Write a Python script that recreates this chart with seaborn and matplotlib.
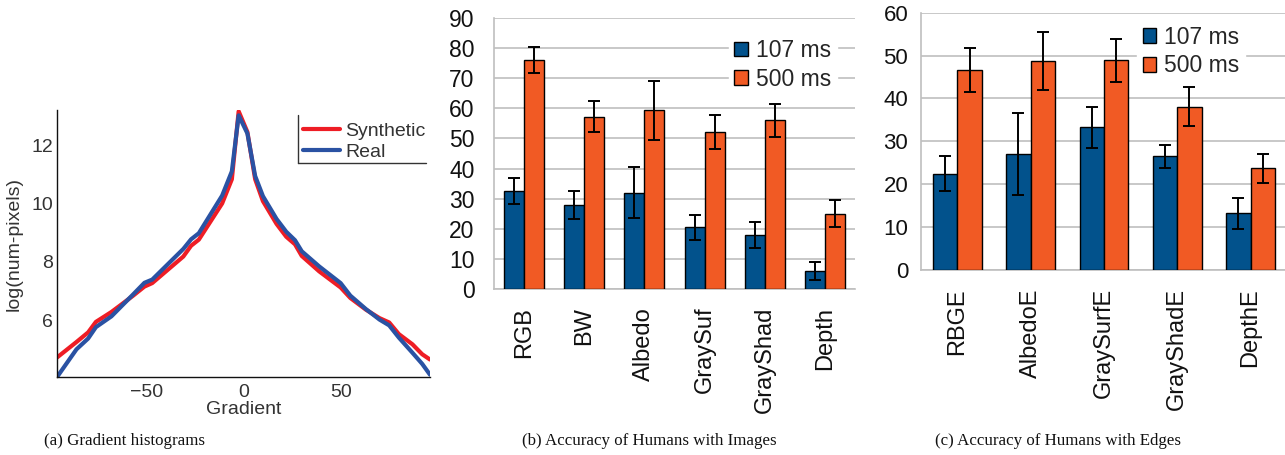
import numpy as np
import pandas as pd
import matplotlib
matplotlib.use("Agg")
import matplotlib.pyplot as plt
from matplotlib.lines import Line2D
from matplotlib.patches import Patch
import seaborn as sns

# ---------------- data ----------------
gradient = [-96, -86, -80, -76, -68, -57, -51, -47, -31, -27, -23, -11, -6, -2.5,
            2, 6, 10, 17, 22, 26.5, 30, 39, 50, 55, 63, 70, 75, 80, 87, 92, 96]
synthetic = [4.72, 5.25, 5.58, 5.94, 6.28, 6.83, 7.15, 7.27, 8.18, 8.55, 8.76, 10.0, 10.83, 13.16,
             12.45, 10.83, 10.08, 9.3, 8.86, 8.6, 8.2, 7.67, 7.12, 6.76, 6.36, 6.07, 5.92, 5.52, 5.17, 4.83, 4.65]
real = [4.05, 5.0, 5.37, 5.76, 6.13, 6.87, 7.28, 7.39, 8.44, 8.77, 8.98, 10.27, 11.1, 13.02,
        12.4, 10.94, 10.25, 9.47, 9.03, 8.74, 8.36, 7.84, 7.27, 6.84, 6.38, 6.02, 5.82, 5.4, 4.88, 4.5, 4.13]

img_cats = ["RGB", "BW", "Albedo", "GraySuf", "GrayShad", "Depth"]
img_107 = [32.6, 27.9, 32.0, 20.4, 18.0, 6.0]
img_107_err = [4.4, 4.7, 8.6, 4.2, 4.3, 3.0]
img_500 = [76.2, 57.3, 59.4, 52.2, 56.0, 25.0]
img_500_err = [4.3, 5.2, 9.8, 5.6, 5.5, 4.4]

edge_cats = ["RBGE", "AlbedoE", "GraySurfE", "GrayShadE", "DepthE"]
edge_107 = [22.5, 27.1, 33.3, 26.5, 13.2]
edge_107_err = [4.05, 9.5, 4.8, 2.7, 3.6]
edge_500 = [46.6, 48.7, 48.9, 38.1, 23.7]
edge_500_err = [5.2, 6.7, 5.0, 4.6, 3.4]

conditions = ["107 ms", "500 ms"]
captions = ["(a) Gradient histograms", "(b) Accuracy of Humans with Images",
            "(c) Accuracy of Humans with Edges"]

# ---------------- style ----------------
sns.set_style("white")
plt.rcParams["font.family"] = ["Liberation Sans", "DejaVu Sans"]
RED = "#EE1D25"
BLUE_LINE = "#2A52A3"
BAR_BLUE = "#02528C"
BAR_ORANGE = "#F15A24"
GRID = "#BFBFBF"

fig = plt.figure(figsize=(12.85, 4.55), dpi=100)

# ---------------- panel (a) ----------------
axA = fig.add_axes([0.0444, 0.1714, 0.2902, 0.5866])
sns.lineplot(x=gradient, y=synthetic, ax=axA, color=RED, lw=3.0, label="Synthetic")
sns.lineplot(x=gradient, y=real, ax=axA, color=BLUE_LINE, lw=3.0, label="Real")
axA.set_xlim(-96, 96)
axA.set_ylim(4.05, 13.2)
axA.set_xticks([-50, 0, 50])
axA.set_xticklabels(["\u221250", "0", "50"])
axA.set_yticks([6, 8, 10, 12])
for s in ["top", "right"]:
    axA.spines[s].set_visible(False)
for s in ["left", "bottom"]:
    axA.spines[s].set_color("#111111")
    axA.spines[s].set_linewidth(1.0)
axA.tick_params(direction="in", length=4, width=1, colors="#111111",
                labelsize=14, labelcolor="#333333")
axA.tick_params(axis="x", pad=5)
axA.tick_params(axis="y", pad=3)
axA.set_xlabel("Gradient", fontsize=14, color="#333333", labelpad=0)
axA.set_ylabel("log(num-pixels)", fontsize=14, color="#333333", labelpad=6)
legA = axA.legend(loc="upper left", bbox_to_anchor=(0.648, 0.97), frameon=False,
                  fontsize=14, handlelength=1.9, handletextpad=0.3,
                  labelspacing=0.2, borderpad=0.2, borderaxespad=0)
for t in legA.get_texts():
    t.set_color("#333333")
# legend frame: only left and bottom edges
fig.add_artist(Line2D([0.2319, 0.2319], [0.6418, 0.7473], color="#333333", lw=1.0))
fig.add_artist(Line2D([0.2319, 0.3315], [0.6418, 0.6418], color="#333333", lw=1.0))


def bar_panel(ax, cats, v107, e107, v500, e500, ymax, ytick_size, ypad, leg_anchor):
    df = pd.DataFrame({
        "category": cats + cats,
        "condition": [conditions[0]] * len(cats) + [conditions[1]] * len(cats),
        "value": v107 + v500,
    })
    sns.barplot(data=df, x="category", y="value", hue="condition", order=cats,
                hue_order=conditions, palette=[BAR_BLUE, BAR_ORANGE], width=2 / 3,
                edgecolor="black", linewidth=1.0, saturation=1, errorbar=None,
                ax=ax, zorder=3)
    for cont, errs in zip(ax.containers, [e107, e500]):
        for bar, err in zip(cont, errs):
            ax.errorbar(bar.get_x() + bar.get_width() / 2, bar.get_height(), yerr=err,
                        fmt="none", ecolor="black", elinewidth=1.4, capsize=4,
                        capthick=1.4, zorder=4)
    ax.set_ylim(0, ymax)
    ax.set_xlim(-0.5, len(cats) - 0.5)
    ax.set_yticks(np.arange(0, ymax + 1, 10))
    ax.yaxis.grid(True, color=GRID, lw=1.2, zorder=0)
    ax.set_axisbelow(True)
    for s in ["top", "right"]:
        ax.spines[s].set_visible(False)
    for s in ["left", "bottom"]:
        ax.spines[s].set_color(GRID)
        ax.spines[s].set_linewidth(1.2)
    ax.set_xticks(np.arange(-0.5, len(cats), 1.0), minor=True)
    ax.tick_params(axis="x", which="minor", length=5, width=1.2, color=GRID, direction="out")
    ax.tick_params(axis="x", which="major", length=0, pad=13, labelsize=17, labelcolor="#111111")
    ax.set_xticks(range(len(cats)))
    ax.set_xticklabels(cats, rotation=90, va="top", ha="center")
    ax.tick_params(axis="y", length=5, width=1.2, color=GRID, direction="out",
                   pad=ypad, labelsize=ytick_size, labelcolor="#111111")
    ax.set_xlabel("")
    ax.set_ylabel("")
    handles = [Patch(facecolor=BAR_BLUE, edgecolor="black", lw=1.0),
               Patch(facecolor=BAR_ORANGE, edgecolor="black", lw=1.0)]
    ax.legend(handles, conditions, loc="upper left", bbox_to_anchor=leg_anchor,
              fontsize=16.5, frameon=True, facecolor="white", edgecolor="white",
              framealpha=1, fancybox=False, handlelength=0.6, handleheight=0.6,
              handletextpad=0.35, labelspacing=0.25, borderpad=0.25, borderaxespad=0)


# ---------------- panel (b) ----------------
axB = fig.add_axes([0.3844, 0.3655, 0.2810, 0.5943])
bar_panel(axB, img_cats, img_107, img_107_err, img_500, img_500_err, 90, 16.5, 9,
          (0.650, 0.945))

# ---------------- panel (c) ----------------
axC = fig.add_axes([0.7165, 0.4066, 0.2852, 0.5655])
bar_panel(axC, edge_cats, edge_107, edge_107_err, edge_500, edge_500_err, 60, 16, 4,
          (0.590, 0.972))

# ---------------- captions ----------------
for xc, cap in zip([0.0965, 0.505, 0.823], captions):
    fig.text(xc, 0.031, cap, ha="center", va="center", fontsize=12.2,
             family=["Liberation Serif", "DejaVu Serif"], color="#111111")

fig.savefig("out.png", dpi=100)
